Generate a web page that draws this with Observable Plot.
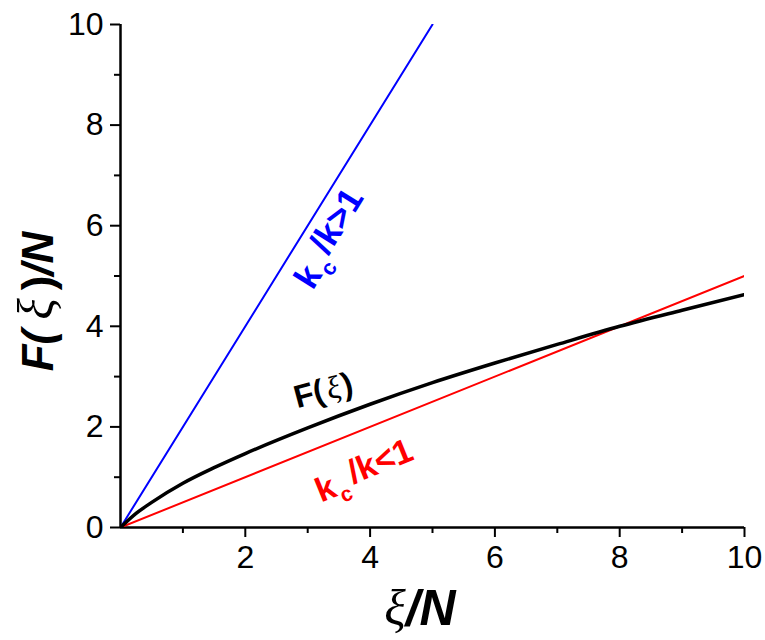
<!DOCTYPE html>
<html><head><meta charset="utf-8">
<script src="https://cdn.jsdelivr.net/npm/d3@7"></script>
<script src="https://cdn.jsdelivr.net/npm/@observablehq/plot@0.6"></script>
<style>body{margin:0;background:#fff;} svg{display:block}</style>
</head><body><div id="chart"></div>
<script>
// black curve F(xi)/N
const xi = [0, 0.25, 0.5, 1, 1.5, 2, 3, 4, 5, 6, 7, 8, 9, 10];
const F  = [0, 0.28, 0.50, 0.88, 1.19, 1.47, 1.98, 2.45, 2.88, 3.27, 3.64, 4.00, 4.32, 4.63];
// straight lines
const blueX = [0, 5],  blueY = [0, 10];
const redX  = [0, 10], redY  = [0, 5];
// ticks
const xMajor = [2, 4, 6, 8, 10], xMinor = [1, 3, 5, 7, 9];
const yMajor = [0, 2, 4, 6, 8, 10], yMinor = [1, 3, 5, 7, 9];
// annotation labels (data coordinates of their centres)
const labels = ["kc/k>1", "F(ξ)", "kc/k<1"];
const labelX = [3.38, 3.25, 3.92];
const labelY = [5.72, 2.72, 1.08];

const font = "'Liberation Sans', Arial, sans-serif";
const line = (X, Y) => X.map((x, i) => ({x, y: Y[i]}));

const plot = Plot.plot({
  width: 765, height: 640,
  marginLeft: 120, marginRight: 21, marginTop: 24, marginBottom: 113,
  style: {fontFamily: font, background: "#fff", overflow: "visible"},
  x: {domain: [0, 10]},
  y: {domain: [0, 10]},
  marks: [
    Plot.axisX({ticks: xMajor, tickSize: 10, tickPadding: 8, fontSize: 32, strokeWidth: 2, label: null, tickFormat: d => d}),
    Plot.axisX({ticks: xMinor, tickSize: 6, strokeWidth: 2, text: null, label: null}),
    Plot.axisY({ticks: yMajor, tickSize: 10, tickPadding: 7, fontSize: 32, strokeWidth: 2, label: null, tickFormat: d => d}),
    Plot.axisY({ticks: yMinor, tickSize: 6, strokeWidth: 2, text: null, label: null}),
    Plot.ruleX([0], {y1: 0, y2: 10, strokeWidth: 2.5}),
    Plot.ruleY([0], {x1: 0, x2: 10, strokeWidth: 2.5}),
    Plot.line(line(blueX, blueY), {x: "x", y: "y", stroke: "#0000ff", strokeWidth: 2, clip: true}),
    Plot.line(line(redX, redY), {x: "x", y: "y", stroke: "#ff0000", strokeWidth: 2, clip: true}),
    Plot.line(line(xi, F), {x: "x", y: "y", stroke: "#000", strokeWidth: 3.5, curve: "monotone-x", clip: true}),
    Plot.text([0], {x: labelX[0], y: labelY[0], text: [labels[0]], rotate: -58, fill: "#0000ff", fontSize: 35, fontWeight: "bold", lineAnchor: "middle"}),
    Plot.text([0], {x: labelX[1], y: labelY[1], text: [labels[1]], rotate: -15, fill: "#000", fontSize: 32, fontWeight: "bold", lineAnchor: "middle"}),
    Plot.text([0], {x: labelX[2], y: labelY[2], text: [labels[2]], rotate: -22, fill: "#ff0000", fontSize: 34, fontWeight: "bold", lineAnchor: "middle"})
  ]
});

const svg = d3.select(plot);
svg.selectAll("text").each(function () {
  const t = this.textContent;
  const el = d3.select(this);
  if (t === "kc/k>1" || t === "kc/k<1") {
    el.text(null);
    el.append("tspan").text("k");
    el.append("tspan").attr("dy", "0.4em").attr("dx", "2").attr("font-size", "0.62em").text("c");
    el.append("tspan").attr("dy", "-0.4em").attr("dx", "4").text(t.slice(2));
  } else if (t === "F(ξ)") {
    el.text(null);
    el.append("tspan").text("F(");
    el.append("tspan").attr("dx", 3).attr("font-family", "'Liberation Serif', serif").attr("font-style", "italic").attr("font-weight", "normal").text("ξ");
    el.append("tspan").attr("dx", 2).text(")");
  }
});

// axis titles
const sx = plot.scale("x"), sy = plot.scale("y");
const xt = svg.append("text")
  .attr("x", (sx.apply(0) + sx.apply(10)) / 2 - 12).attr("y", 625)
  .attr("text-anchor", "middle").attr("font-family", font).attr("font-size", 50).attr("fill", "#000");
xt.append("tspan").attr("font-family", "'Liberation Serif', serif").attr("font-style", "italic").text("ξ");
xt.append("tspan").attr("font-weight", "bold").attr("font-style", "italic").text("/N");

const yt = svg.append("text")
  .attr("transform", `translate(53,${(sy.apply(0) + sy.apply(10)) / 2 + 26}) rotate(-90)`)
  .attr("text-anchor", "middle").attr("font-family", font).attr("font-size", 44).attr("fill", "#000");
yt.append("tspan").attr("font-weight", "bold").attr("font-style", "italic").text("F(");
yt.append("tspan").attr("dx", 10).attr("font-family", "'Liberation Serif', serif").attr("font-style", "italic").attr("font-size", 50).text("ξ");
yt.append("tspan").attr("dx", 8).attr("font-weight", "bold").text(")");
yt.append("tspan").attr("font-weight", "bold").attr("font-style", "italic").text("/N");

document.getElementById("chart").appendChild(plot);
</script>
</body></html>
